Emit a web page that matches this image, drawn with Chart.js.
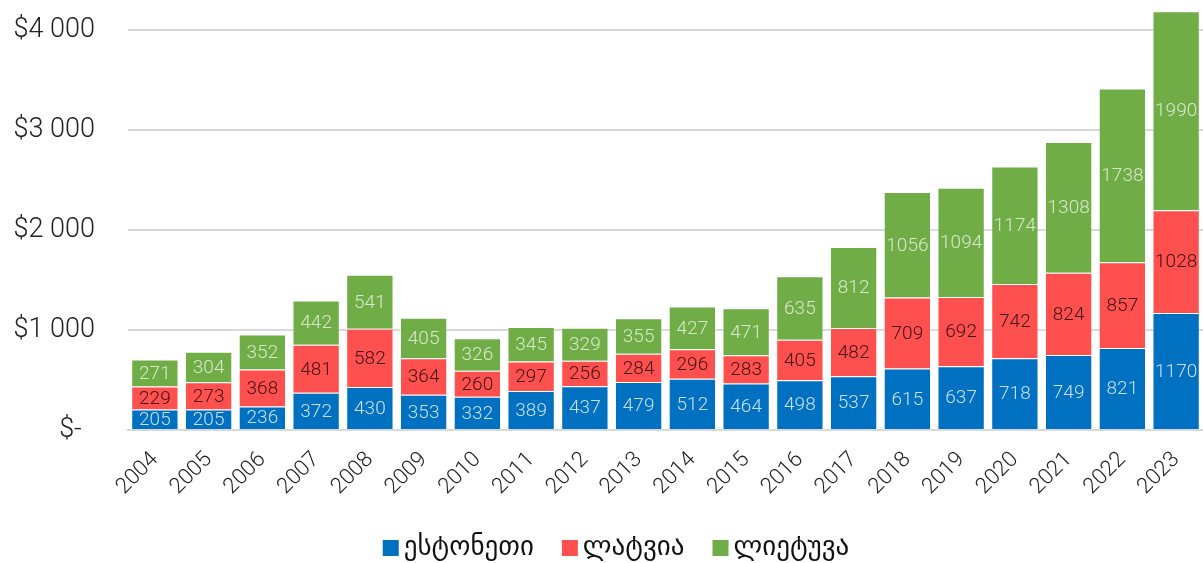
<!DOCTYPE html>
<html>
<head>
<meta charset="utf-8">
<script src="https://cdn.jsdelivr.net/npm/chart.js@4/dist/chart.umd.min.js"></script>
<style>
html,body{margin:0;padding:0;background:#fff;}
#wrap{width:1203px;height:563px;position:relative;}
</style>
</head>
<body>
<div id="wrap"><canvas id="c" width="1203" height="563"></canvas></div>
<script>
const years = ['2004','2005','2006','2007','2008','2009','2010','2011','2012','2013','2014','2015','2016','2017','2018','2019','2020','2021','2022','2023'];
const estonia = [205,205,236,372,430,353,332,389,437,479,512,464,498,537,615,637,718,749,821,1170];
const latvia = [229,273,368,481,582,364,260,297,256,284,296,283,405,482,709,692,742,824,857,1028];
const lithuania = [271,304,352,442,541,405,326,345,329,355,427,471,635,812,1056,1094,1174,1308,1738,1990];
const seriesNames = ['ესტონეთი','ლატვია','ლიეტუვა'];
const seriesColors = ['#0070C0','#FF5050','#70AD47'];
const yTicks = [0,1000,2000,3000,4000];

const FONT = "Roboto, 'DejaVu Sans', sans-serif";
const LEGEND_FONT = "'DejaVu Sans', sans-serif";
const labelColors = ['rgba(255,255,255,0.78)','rgba(40,10,10,0.9)','rgba(255,255,255,0.72)'];

const segLabels = {
  id:'segLabels',
  afterDatasetsDraw(chart){
    const ctx = chart.ctx;
    ctx.save();
    ctx.font = "300 19px " + FONT;
    ctx.textAlign='center';
    ctx.textBaseline='middle';
    chart.data.datasets.forEach((ds,di)=>{
      const meta = chart.getDatasetMeta(di);
      meta.data.forEach((bar,i)=>{
        const y = (bar.y + bar.base)/2;
        ctx.fillStyle = labelColors[di];
        ctx.fillText(String(ds.data[i]), bar.x, y+1);
      });
    });
    ctx.restore();
  }
};

const customLegend = {
  id:'customLegend',
  afterDraw(chart){
    const ctx = chart.ctx;
    ctx.save();
    ctx.font = "27px " + LEGEND_FONT;
    ctx.textBaseline = 'middle';
    const box = 16, gapText = 5, gapItem = 28;
    const widths = seriesNames.map(n=>ctx.measureText(n).width);
    let total = 0;
    widths.forEach((w,i)=>{ total += box + gapText + w + (i<widths.length-1?gapItem:0); });
    let x = 616 - total/2;
    const yc = 548;
    seriesNames.forEach((n,i)=>{
      ctx.fillStyle = seriesColors[i];
      ctx.fillRect(x, yc-8, box, box);
      ctx.fillStyle = '#111';
      ctx.fillText(n, x+box+gapText, yc);
      x += box + gapText + widths[i] + gapItem;
    });
    ctx.restore();
  }
};

function fmt(v){
  if(v===0) return '$-  ';
  return '$' + String(v/1000) + ' 000';
}

new Chart(document.getElementById('c'),{
  type:'bar',
  data:{
    labels:years,
    datasets:[
      {label:seriesNames[0],data:estonia,backgroundColor:seriesColors[0],borderColor:'rgba(255,255,255,0.35)',borderWidth:1},
      {label:seriesNames[1],data:latvia,backgroundColor:seriesColors[1],borderColor:'rgba(255,255,255,0.35)',borderWidth:1},
      {label:seriesNames[2],data:lithuania,backgroundColor:seriesColors[2],borderColor:'rgba(255,255,255,0.35)',borderWidth:1}
    ]
  },
  options:{
    responsive:false,
    animation:false,
    layout:{padding:{left:0,right:0,top:10,bottom:53}},
    datasets:{bar:{barPercentage:0.88,categoryPercentage:1}},
    scales:{
      x:{
        stacked:true,
        grid:{display:false,drawTicks:false},
        border:{display:true,color:'#d9d9d9',width:2},
        ticks:{font:{family:FONT,size:22,weight:300},color:'#222',minRotation:45,maxRotation:45,padding:17,autoSkip:false},
        afterFit(scale){ scale.height = 80; scale.paddingLeft = 0; scale.paddingRight = 0; }
      },
      y:{
        stacked:true,
        min:0,max:4200,
        afterBuildTicks(axis){axis.ticks = yTicks.map(v=>({value:v}));},
        grid:{color:'#d9d9d9',lineWidth:2,drawTicks:false},
        border:{display:false},
        ticks:{font:{family:FONT,size:27,weight:300},color:'#222',padding:33,callback:(v)=>fmt(v)},
        afterFit(scale){ scale.width = 128; scale.paddingTop = 0; scale.paddingBottom = 0; }
      }
    },
    plugins:{
      legend:{display:false},
      tooltip:{enabled:false}
    }
  },
  plugins:[segLabels, customLegend]
});
</script>
</body>
</html>
